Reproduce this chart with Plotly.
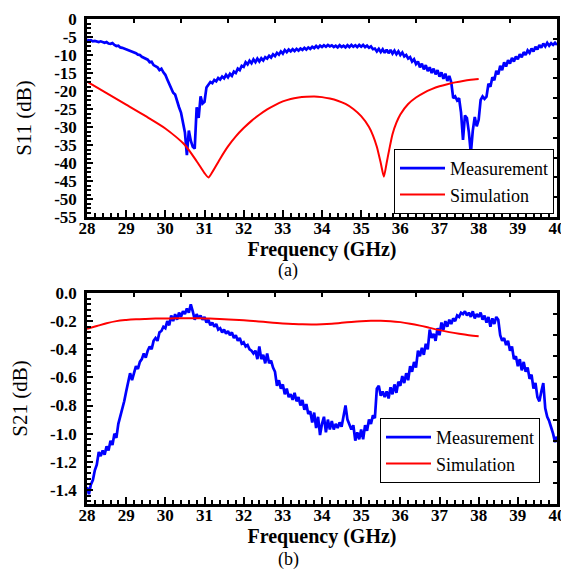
import numpy as np
import plotly.graph_objects as go

# ---------------- data ----------------
freq_meas = np.round(np.arange(28.0, 40.0001, 0.05), 2)

s11_meas = [
    -5.8, -6.0, -5.9, -6.2, -6.1, -6.3, -6.4, -6.2, -6.5, -6.6, -6.4, -6.8, -6.9, -6.7, -7.2, -7.5, -7.4, -7.9, -8.0, -8.2,
    -8.4, -8.6, -8.9, -9.0, -9.4, -9.5, -9.9, -10.0, -10.5, -10.8, -11.2, -11.3, -12.0, -11.9, -12.8, -13.1, -13.4, -14.2, -13.8, -14.8,
    -15.5, -16.8, -18.0, -19.5, -20.5, -21.0, -23.0, -24.5, -26.0, -28.5, -31.5, -37.8, -31.0, -33.8, -35.5, -36.0, -24.5, -27.5, -21.5, -23.5,
    -23.0, -19.0, -18.2, -17.5, -17.8, -16.9, -17.3, -16.4, -16.8, -16.0, -16.5, -15.5, -16.2, -15.2, -15.8, -14.6, -15.0, -13.8, -14.2, -13.0,
    -13.3, -12.0, -12.6, -11.6, -12.3, -11.2, -12.0, -11.0, -11.8, -10.9, -11.5, -10.6, -11.0, -10.2, -10.7, -9.8, -10.3, -9.4, -9.9, -9.0,
    -9.6, -8.6, -9.2, -8.5, -9.0, -8.4, -8.9, -8.3, -8.8, -8.2, -8.6, -8.0, -8.5, -7.9, -8.3, -7.7, -8.1, -7.5, -8.0, -7.4,
    -7.8, -7.3, -7.7, -7.2, -7.6, -7.3, -7.8, -7.4, -7.9, -7.3, -7.8, -7.4, -7.9, -7.3, -7.8, -7.2, -7.7, -7.3, -7.8, -7.2,
    -7.7, -7.2, -7.8, -7.4, -8.0, -7.6, -8.4, -8.2, -9.0, -8.3, -9.2, -8.4, -9.4, -8.5, -9.5, -8.6, -9.6, -8.8, -9.8, -9.0,
    -10.0, -9.3, -10.4, -10.0, -11.0, -10.6, -11.8, -11.2, -12.5, -11.8, -13.4, -12.4, -14.0, -12.8, -14.5, -13.4, -15.0, -13.8, -15.4, -14.2,
    -16.0, -14.8, -16.6, -15.2, -17.2, -15.8, -17.6, -22.0, -21.5, -22.6, -22.0, -26.0, -33.6, -26.8, -27.5, -31.5, -37.3, -31.0, -27.2, -29.8,
    -28.0, -22.5, -21.5, -22.2, -21.6, -18.0, -18.8, -16.2, -17.0, -14.4, -15.4, -13.0, -14.2, -12.0, -13.2, -11.4, -12.4, -10.8, -11.8, -10.4,
    -11.2, -9.8, -10.6, -9.2, -10.0, -8.7, -9.4, -8.2, -9.0, -7.7, -8.5, -7.2, -8.0, -6.8, -7.6, -6.6, -7.4, -6.7, -7.2, -6.6, -7.2,
]

s11_sim_freq = [28.0, 28.5, 29.0, 29.5, 30.0, 30.5, 30.8, 31.0, 31.1, 31.2, 31.4, 31.6, 31.8, 32.0, 32.2, 32.4, 32.6,
                32.8, 33.0, 33.2, 33.4, 33.6, 33.8, 34.0, 34.2, 34.4, 34.6, 34.8, 35.0, 35.2, 35.3, 35.4, 35.5, 35.58,
                35.65, 35.7, 35.8, 35.9, 36.0, 36.2, 36.4, 36.6, 36.8, 37.0, 37.2, 37.4, 37.6, 37.8, 38.0]
s11_sim = [-17.4, -20.6, -23.8, -27.0, -30.4, -35.0, -39.5, -42.8, -44.0, -42.5, -38.8, -35.4, -32.6, -30.3, -28.3, -26.6, -25.1,
           -23.9, -22.9, -22.2, -21.8, -21.6, -21.5, -21.7, -22.1, -22.7, -23.6, -25.0, -27.0, -30.0, -32.3, -35.5, -40.0, -43.8,
           -40.0, -37.2, -32.0, -28.8, -26.5, -23.6, -21.8, -20.5, -19.5, -18.7, -18.1, -17.6, -17.2, -16.9, -16.7]

s21_meas = [
    -1.38, -1.43, -1.36, -1.33, -1.26, -1.22, -1.13, -1.16, -1.12, -1.15, -1.09, -1.12, -1.05, -1.08, -1.00, -1.03, -0.93, -0.88, -0.82, -0.77,
    -0.70, -0.62, -0.57, -0.62, -0.56, -0.52, -0.54, -0.49, -0.47, -0.43, -0.46, -0.41, -0.38, -0.40, -0.34, -0.32, -0.34, -0.28, -0.27, -0.24,
    -0.25, -0.20, -0.23, -0.16, -0.20, -0.15, -0.19, -0.14, -0.17, -0.13, -0.15, -0.11, -0.14, -0.08, -0.13, -0.19, -0.15, -0.18, -0.16, -0.19,
    -0.17, -0.21, -0.19, -0.23, -0.21, -0.24, -0.22, -0.26, -0.25, -0.28, -0.26, -0.29, -0.27, -0.30, -0.28, -0.32, -0.30, -0.34, -0.32, -0.36,
    -0.35, -0.38, -0.37, -0.40, -0.41, -0.43, -0.41, -0.47, -0.38, -0.47, -0.44, -0.50, -0.43, -0.50, -0.48, -0.53, -0.56, -0.66, -0.62, -0.68,
    -0.65, -0.72, -0.68, -0.74, -0.72, -0.76, -0.71, -0.77, -0.74, -0.80, -0.76, -0.83, -0.79, -0.86, -0.84, -0.92, -0.85, -0.96, -0.88, -1.01,
    -0.93, -0.88, -0.99, -0.90, -0.97, -0.91, -0.97, -0.93, -0.96, -0.92, -0.95, -0.88, -0.80, -0.90, -0.93, -0.97, -0.94, -1.05, -0.99, -1.04,
    -0.97, -1.04, -0.94, -0.98, -0.90, -0.93, -0.87, -0.89, -0.68, -0.66, -0.73, -0.70, -0.74, -0.70, -0.75, -0.67, -0.72, -0.65, -0.71, -0.63,
    -0.66, -0.59, -0.64, -0.57, -0.62, -0.52, -0.56, -0.49, -0.53, -0.41, -0.45, -0.39, -0.44, -0.36, -0.40, -0.26, -0.32, -0.29, -0.34, -0.25,
    -0.30, -0.21, -0.26, -0.20, -0.24, -0.19, -0.22, -0.18, -0.20, -0.16, -0.17, -0.14, -0.15, -0.13, -0.16, -0.14, -0.17, -0.13, -0.18, -0.15,
    -0.17, -0.14, -0.19, -0.16, -0.21, -0.17, -0.24, -0.18, -0.22, -0.17, -0.19, -0.30, -0.34, -0.32, -0.37, -0.34, -0.41, -0.38, -0.47, -0.45,
    -0.52, -0.47, -0.55, -0.49, -0.56, -0.53, -0.61, -0.58, -0.68, -0.64, -0.74, -0.77, -0.70, -0.64, -0.82, -0.88, -0.91, -0.95, -1.00, -1.06, -1.02,
]

s21_sim_freq = [28.0, 28.25, 28.5, 28.75, 29.0, 29.25, 29.5, 29.75, 30.0, 30.25, 30.5, 30.75, 31.0, 31.25, 31.5, 31.75,
                32.0, 32.25, 32.5, 32.75, 33.0, 33.25, 33.5, 33.75, 34.0, 34.25, 34.5, 34.75, 35.0, 35.25, 35.5, 35.75,
                36.0, 36.25, 36.5, 36.75, 37.0, 37.25, 37.5, 37.75, 38.0]
s21_sim = [-0.255, -0.235, -0.215, -0.200, -0.192, -0.187, -0.184, -0.182, -0.181, -0.180, -0.180, -0.180, -0.181, -0.183,
           -0.186, -0.190, -0.194, -0.199, -0.205, -0.211, -0.216, -0.220, -0.223, -0.224, -0.222, -0.218, -0.212, -0.206,
           -0.201, -0.198, -0.197, -0.200, -0.207, -0.218, -0.232, -0.248, -0.264, -0.278, -0.290, -0.300, -0.307]

freq_ticks = list(range(28, 41))
s11_tickvals = [0, -5, -10, -15, -20, -25, -30, -35, -40, -45, -50, -55]
s11_ticktext = ["0", "-5", "-10", "-15", "-20", "-25", "-30", "-35", "-40", "-45", "-50", "-55"]
s21_tickvals = [0.0, -0.2, -0.4, -0.6, -0.8, -1.0, -1.2, -1.4]
s21_ticktext = ["0.0", "-0.2", "-0.4", "-0.6", "-0.8", "-1.0", "-1.2", "-1.4"]

assert len(s11_meas) == len(freq_meas)
assert len(s21_meas) == len(freq_meas)

# ---------------- style ----------------
FONT = "Liberation Serif"
W, H = 569, 571
OX, OY = 8, 8  # page body margin compensation
BLUE = "#0000ff"
RED = "#ff0000"


def px(xp):
    return (xp - OX) / W


def py(yp):
    return 1 - (yp - OY) / H


x_dom = [px(87), px(557)]
y1_dom = [py(217), py(19)]
y2_dom = [py(504), py(293)]

fig = go.Figure()

fig.add_trace(go.Scatter(x=freq_meas, y=s11_meas, mode="lines", name="Measurement",
                         line=dict(color=BLUE, width=2.7), xaxis="x", yaxis="y", legend="legend"))
fig.add_trace(go.Scatter(x=s11_sim_freq, y=s11_sim, mode="lines", name="Simulation",
                         line=dict(color=RED, width=2, shape="spline", smoothing=0.6), xaxis="x", yaxis="y", legend="legend"))
fig.add_trace(go.Scatter(x=freq_meas, y=s21_meas, mode="lines", name="Measurement",
                         line=dict(color=BLUE, width=2.7), xaxis="x2", yaxis="y2", legend="legend2"))
fig.add_trace(go.Scatter(x=s21_sim_freq, y=s21_sim, mode="lines", name="Simulation",
                         line=dict(color=RED, width=2, shape="spline"), xaxis="x2", yaxis="y2", legend="legend2"))

# empty helpers so the mirrored tick axes render
for xa, ya in [("x3", "y"), ("x", "y3"), ("x4", "y2"), ("x2", "y4")]:
    fig.add_trace(go.Scatter(x=[], y=[], xaxis=xa, yaxis=ya, showlegend=False, hoverinfo="skip"))

tickfont = dict(family=FONT, size=17, color="black", weight="bold")


def xaxis_cfg(anchor):
    return dict(
        domain=x_dom, anchor=anchor, range=[28, 40],
        tickmode="array", tickvals=freq_ticks, ticktext=[str(t) for t in freq_ticks],
        ticks="inside", ticklen=7, tickwidth=2, tickcolor="black",
        minor=dict(tickmode="linear", tick0=28, dtick=0.2, ticks="inside", ticklen=4, tickwidth=1.5, tickcolor="black"),
        showline=True, linewidth=2.5, linecolor="black", mirror=True,
        showgrid=False, zeroline=False, tickfont=tickfont, ticklabelstandoff=-6,
        title=dict(text="Frequency (GHz)", font=dict(family=FONT, size=20, color="black", weight="bold"), standoff=0),
        automargin=False,
    )


def yaxis_cfg(anchor, dom, rng, tv, tt, minor_dt, title):
    return dict(
        domain=dom, anchor=anchor, range=rng,
        tickmode="array", tickvals=tv, ticktext=tt,
        ticks="inside", ticklen=6, tickwidth=2, tickcolor="black",
        minor=dict(tickmode="linear", tick0=0, dtick=minor_dt, ticks="inside", ticklen=4, tickwidth=1.5, tickcolor="black"),
        showline=True, linewidth=2.5, linecolor="black", mirror=True,
        showgrid=False, zeroline=False, tickfont=tickfont, ticklabelstandoff=4,
        title=dict(text=title, font=dict(family=FONT, size=21, color="black"), standoff=17),
        automargin=False,
    )


def top_cfg(over, anchor):
    return dict(overlaying=over, anchor=anchor, side="top", range=[0, 10], tickmode="linear", tick0=0, dtick=1,
                ticks="inside", ticklen=4, tickwidth=1.5, tickcolor="black", showticklabels=False,
                showline=False, showgrid=False, zeroline=False)


def right_cfg(over, anchor):
    return dict(overlaying=over, anchor=anchor, side="right", range=[0, 10], tickmode="linear", tick0=0, dtick=1,
                ticks="inside", ticklen=4, tickwidth=1.5, tickcolor="black", showticklabels=False,
                showline=False, showgrid=False, zeroline=False)


legend_common = dict(xanchor="right", yanchor="bottom", bgcolor="white", bordercolor="black", borderwidth=1,
                     font=dict(family=FONT, size=18, color="black"), tracegroupgap=0, itemwidth=45)

fig.update_layout(
    width=W, height=H,
    margin=dict(l=0, r=0, t=0, b=0),
    paper_bgcolor="white", plot_bgcolor="white",
    font=dict(family=FONT, color="black"),
    xaxis=xaxis_cfg("y"),
    yaxis=yaxis_cfg("x", y1_dom, [-55, 0], s11_tickvals, s11_ticktext, 1.25, "S11 (dB)"),
    xaxis2=xaxis_cfg("y2"),
    yaxis2=yaxis_cfg("x2", y2_dom, [-1.5, 0], s21_tickvals, s21_ticktext, 0.04, "S21 (dB)"),
    xaxis3=top_cfg("x", "y"),
    yaxis3=right_cfg("y", "x"),
    xaxis4=top_cfg("x2", "y2"),
    yaxis4=right_cfg("y2", "x2"),
    legend=dict(x=px(554), y=py(214), **legend_common),
    legend2=dict(x=px(540), y=py(483), **legend_common),
    showlegend=True,
    annotations=[
        dict(text="(a)", x=px(288), y=py(270), xref="paper", yref="paper", showarrow=False,
             font=dict(family=FONT, size=18, color="black"), xanchor="center", yanchor="middle"),
        dict(text="(b)", x=px(288), y=py(559), xref="paper", yref="paper", showarrow=False,
             font=dict(family=FONT, size=18, color="black"), xanchor="center", yanchor="middle"),
    ],
)

fig.write_html("out.html")
